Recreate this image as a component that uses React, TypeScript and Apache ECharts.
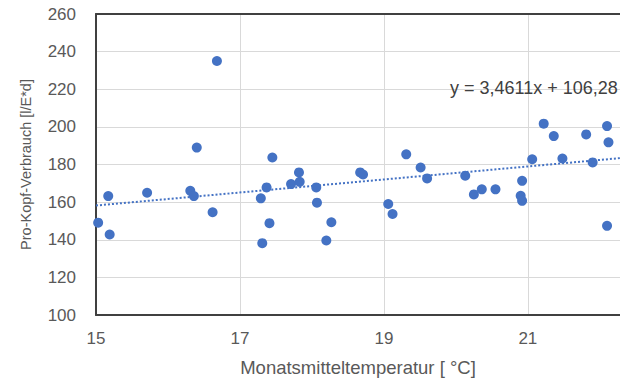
import React, { useEffect, useRef } from "react";
import * as echarts from "echarts";

const temperature: number[] = [
  16.68, 16.4, 15.17, 15.71, 16.31, 16.36, 16.62, 15.03, 15.19, 17.37, 17.29,
  17.45, 17.41, 17.31, 17.82, 17.71, 17.83, 18.06, 18.07, 18.27, 18.2, 18.67,
  18.71, 19.06, 19.12, 19.31, 19.51, 19.6, 20.13, 20.25, 20.36, 20.55, 20.92,
  20.9, 20.92, 21.06, 21.22, 21.36, 21.48, 21.81, 21.9, 22.1, 22.12, 22.1,
];
const consumption: number[] = [
  235.0, 189.0, 163.2, 165.0, 166.0, 163.2, 154.6, 149.1, 142.8, 167.8, 162.0,
  183.7, 148.8, 138.2, 175.8, 169.6, 170.8, 167.8, 159.7, 149.3, 139.6, 175.8,
  174.7, 159.0, 153.7, 185.4, 178.4, 172.6, 174.0, 164.1, 166.8, 166.8, 171.3,
  163.4, 160.7, 182.8, 201.7, 195.1, 183.2, 196.0, 181.1, 200.4, 191.8, 147.4,
];
const trendSlope = 3.4611;
const trendIntercept = 106.28;
const trendLabel = "y = 3,4611x + 106,28";
const xMin = 15;
const xMax = 22.28;
const xTicks = [15, 17, 19, 21];
const yMin = 100;
const yMax = 260;

export default function App() {
  const ref = useRef<HTMLDivElement>(null);
  useEffect(() => {
    document.body.style.margin = "0";
    if (!ref.current) return;
    const chart = echarts.init(ref.current, null, { renderer: "svg" });
    const font = "'Liberation Sans', Arial, sans-serif";
    const textColor = "#595959";
    const points = temperature.map((t, i) => [t, consumption[i]]);
    const trend = [
      [xMin, trendSlope * xMin + trendIntercept],
      [xMax, trendSlope * xMax + trendIntercept],
    ];
    chart.setOption({
      animation: false,
      backgroundColor: "#ffffff",
      textStyle: { fontFamily: font },
      grid: { left: 96, top: 14, right: 0, bottom: 66 },
      xAxis: [
        {
          type: "value",
          min: xMin,
          max: xMax,
          interval: 2,
          name: "Monatsmitteltemperatur [ °C]",
          nameLocation: "middle",
          nameGap: 43,
          nameTextStyle: { color: textColor, fontSize: 18.5, fontFamily: font },
          axisLine: { show: true, lineStyle: { color: "#404040", width: 2 } },
          axisTick: { show: false },
          axisLabel: {
            color: textColor,
            fontSize: 17,
            fontFamily: font,
            margin: 15,
            showMaxLabel: false,
            formatter: (v: number) => (xTicks.includes(v) ? String(v) : ""),
          },
          splitLine: { show: true, lineStyle: { color: "#d9d9d9", width: 1 } },
        },
        {
          type: "value",
          position: "top",
          min: xMin,
          max: xMax,
          axisLine: { show: true, onZero: false, lineStyle: { color: "#404040", width: 2 } },
          axisTick: { show: false },
          axisLabel: { show: false },
          splitLine: { show: false },
        },
      ],
      yAxis: {
        type: "value",
        min: yMin,
        max: yMax,
        interval: 20,
        name: "Pro-Kopf-Verbrauch [l/E*d]",
        nameLocation: "middle",
        nameGap: 63,
        nameRotate: 90,
        nameTextStyle: { color: textColor, fontSize: 14.5, fontFamily: font },
        axisLine: { show: true, lineStyle: { color: "#404040", width: 2 } },
        axisTick: { show: false },
        axisLabel: { color: textColor, fontSize: 17, fontFamily: font, margin: 20 },
        splitLine: { show: true, lineStyle: { color: "#d9d9d9", width: 1 } },
      },
      series: [
        {
          type: "line",
          data: trend,
          showSymbol: false,
          symbol: "none",
          lineStyle: { color: "#4472C4", width: 2, type: [2, 2] },
          z: 2,
        },
        {
          type: "scatter",
          data: points,
          symbolSize: 10,
          itemStyle: { color: "#4472C4", opacity: 1 },
          z: 3,
        },
      ],
      graphic: [
        {
          type: "text",
          left: 450,
          top: 79,
          style: {
            text: trendLabel,
            fill: "#404040",
            font: `18px ${font}`,
          },
          z: 10,
        },
      ],
    });
    return () => chart.dispose();
  }, []);
  return <div ref={ref} style={{ width: 620, height: 382 }} />;
}
